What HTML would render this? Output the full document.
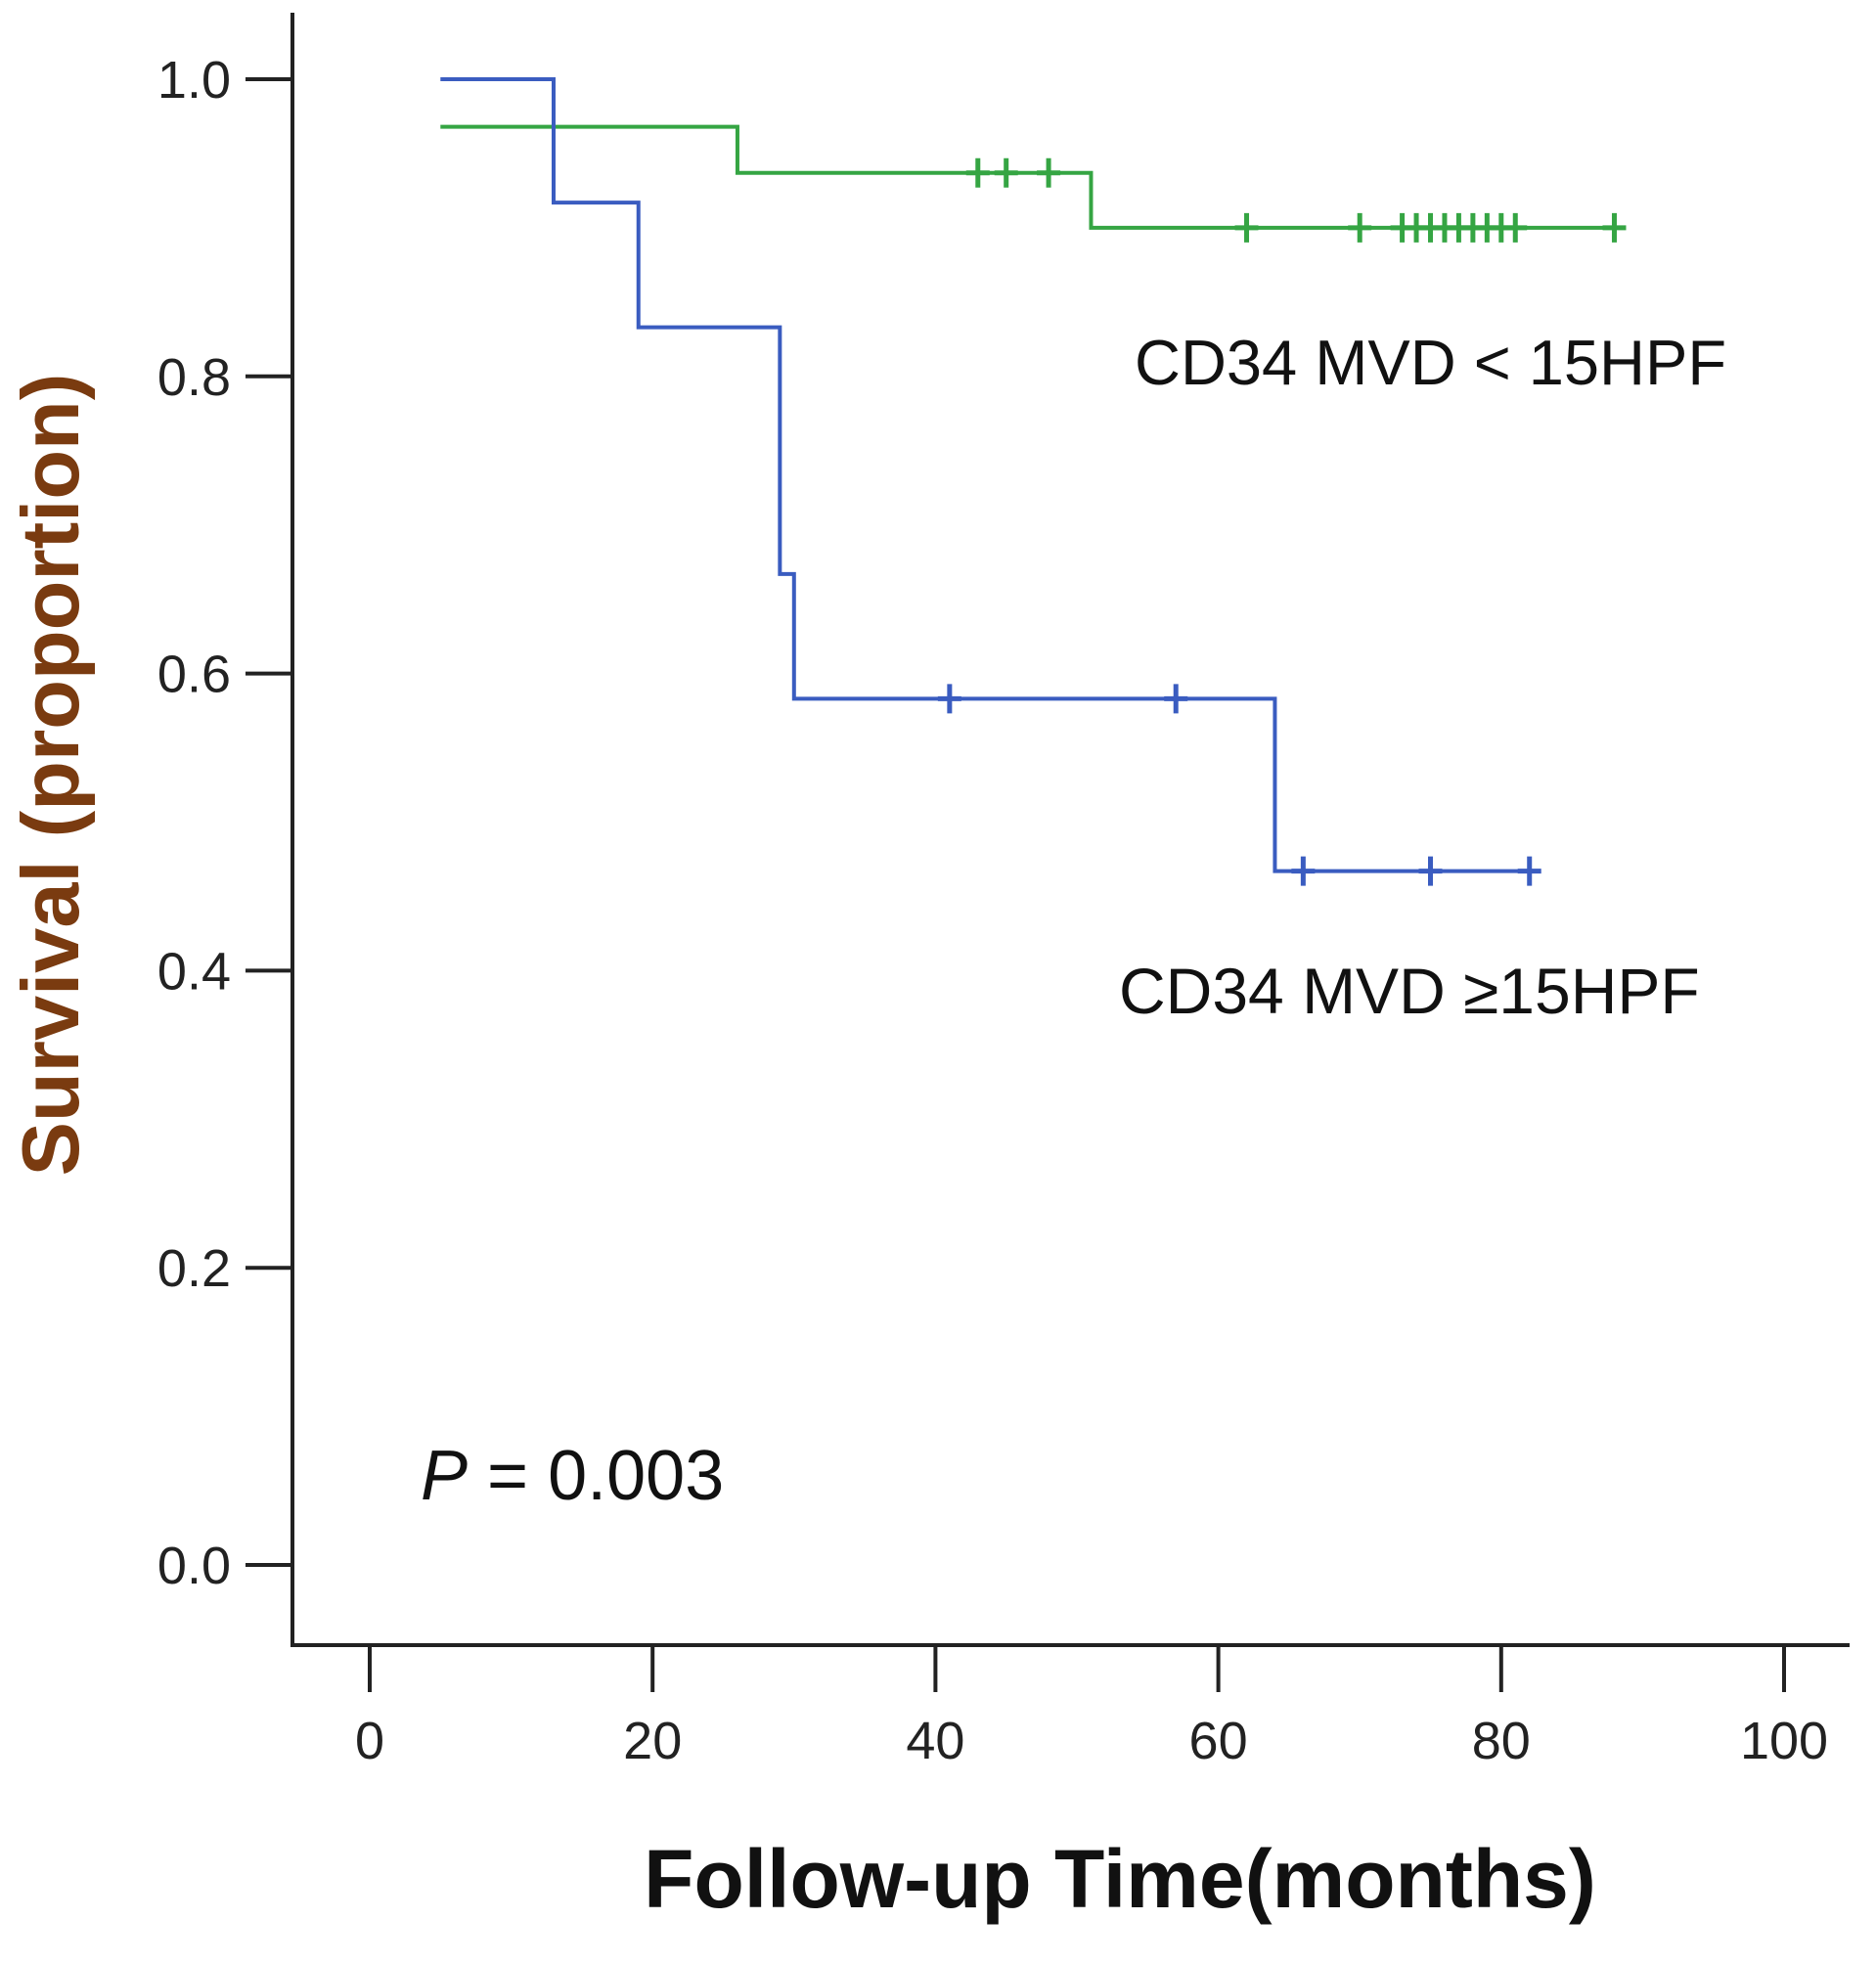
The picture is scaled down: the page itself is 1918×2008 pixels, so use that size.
<!DOCTYPE html>
<html><head><meta charset="utf-8"><style>
html,body{margin:0;padding:0;background:#fff;}
svg{display:block;font-family:"Liberation Sans",sans-serif;}
</style></head><body>
<svg id="chart" width="1918" height="2008" viewBox="0 0 1918 2008" xmlns="http://www.w3.org/2000/svg">
<g id="axes"></g>
<g id="series"></g>
<text transform="translate(80,792) rotate(-90)" text-anchor="middle" font-size="83" font-weight="bold" fill="#7a3b10">Survival (proportion)</text>
<text x="1145" y="1950" text-anchor="middle" font-size="84" font-weight="bold" fill="#111">Follow-up Time(months)</text>
<text x="1160" y="393" font-size="65" fill="#111">CD34 MVD &lt; 15HPF</text>
<text x="1144" y="1036" font-size="66" fill="#111">CD34 MVD ≥15HPF</text>
<text x="430" y="1533" font-size="72" fill="#111"><tspan font-style="italic">P</tspan> = 0.003</text>
</svg>
<script>
const xTicks = [0, 20, 40, 60, 80, 100];
const yTicks = ["0.0", "0.2", "0.4", "0.6", "0.8", "1.0"];
const blueTimes = [5, 13, 19, 29, 30, 64, 82];
const blueSurv = [1.0, 0.917, 0.833, 0.667, 0.583, 0.467, 0.467];
const blueCensor = [41, 57, 66, 75, 82];
const greenTimes = [5, 26, 51, 88];
const greenSurv = [0.968, 0.937, 0.9, 0.9];
const greenCensor = [43, 45, 48, 62, 70, 73, 74, 75, 76, 77, 78, 79, 80, 81, 88];

const NS = "http://www.w3.org/2000/svg";
const X = v => 378 + v * 14.46;
const Y = v => 1600 - v * 1519;
function mk(tag, attrs, parent){const e=document.createElementNS(NS,tag);for(const k in attrs)e.setAttribute(k,attrs[k]);parent.appendChild(e);return e;}
const axes = document.getElementById('axes');
const series = document.getElementById('series');
let e = mk('path',{d:'M299 13 V1682 H1891',fill:'none',stroke:'#222','stroke-width':4},axes);


xTicks.forEach(t=>{
  let l = mk('line',{x1:X(t),x2:X(t),y1:1682,y2:1730,stroke:'#222','stroke-width':4},axes);
  
  
  let tx = mk('text',{x:X(t),y:1798,'text-anchor':'middle','font-size':54,fill:'#222'},axes);
  tx.textContent = t;
  
  
});
yTicks.forEach(t=>{
  const v = parseFloat(t);
  let l = mk('line',{x1:251,x2:299,y1:Y(v),y2:Y(v),stroke:'#222','stroke-width':4},axes);
  
  
  let tx = mk('text',{x:236,y:Y(v)+19,'text-anchor':'end','font-size':54,fill:'#222'},axes);
  tx.textContent = t;
  
  
});
function stepCurve(times, surv, censor, color, name){
  let d = 'M'+X(times[0])+' '+Y(surv[0]);
  for(let i=1;i<times.length;i++){ d += ' H'+X(times[i])+' V'+Y(surv[i]); }
  let p = mk('path',{d:d,fill:'none',stroke:color,'stroke-width':4},series);
  
  
  censor.forEach(c=>{
    let s = surv[0];
    for(let i=0;i<times.length;i++){ if(times[i]<=c) s = surv[i]; }
    let m = mk('path',{d:'M'+X(c)+' '+(Y(s)-15)+' V'+(Y(s)+15)+' M'+(X(c)-12)+' '+Y(s)+' H'+(X(c)+12),stroke:color,'stroke-width':5,fill:'none'},series);
    
    
  });
}
stepCurve(greenTimes, greenSurv, greenCensor, '#35a543', 'low-mvd');
stepCurve(blueTimes, blueSurv, blueCensor, '#3a5cc0', 'high-mvd');
</script>
</body></html>
